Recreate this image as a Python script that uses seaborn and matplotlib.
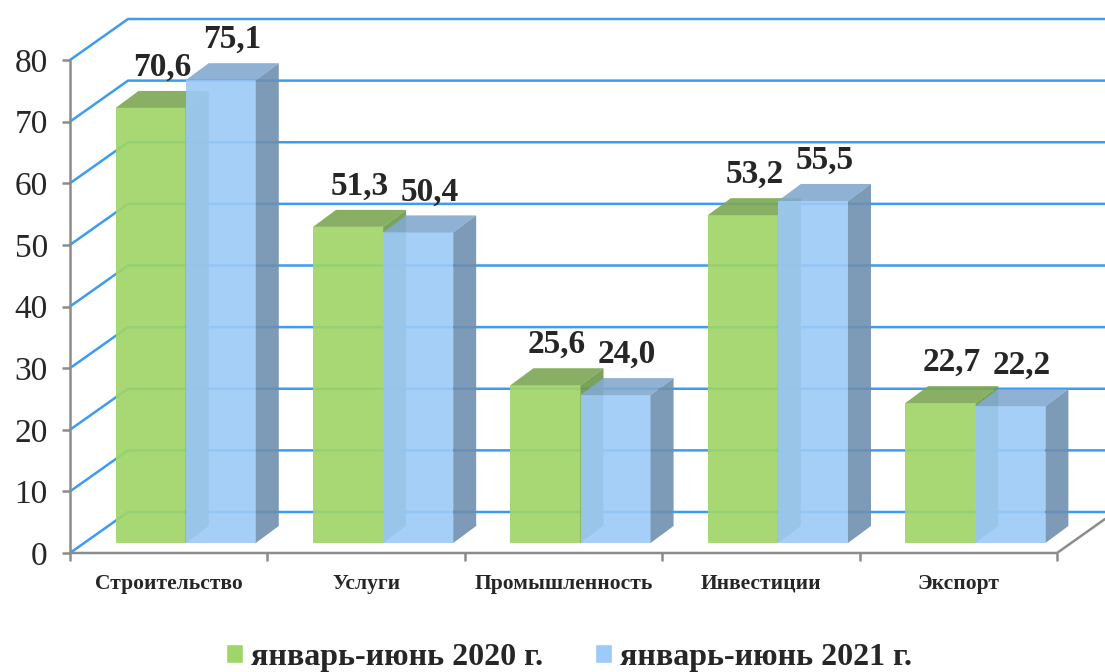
import pandas as pd
import matplotlib.pyplot as plt
import seaborn as sns
from matplotlib.patches import Polygon, Patch
from matplotlib.lines import Line2D
from matplotlib.transforms import Affine2D, IdentityTransform

# data
categories = ['Строительство', 'Услуги', 'Промышленность', 'Инвестиции', 'Экспорт']
v2020 = [70.6, 51.3, 25.6, 53.2, 22.7]
v2021 = [75.1, 50.4, 24.0, 55.5, 22.2]
periods = ['январь-июнь 2020 г.', 'январь-июнь 2021 г.']
yticks = [0, 10, 20, 30, 40, 50, 60, 70, 80]

df = pd.DataFrame({
    'cat': categories * 2,
    'val': v2020 + v2021,
    'period': [periods[0]] * 5 + [periods[1]] * 5,
})

sns.set_style('white')
plt.rcParams['font.family'] = ['Liberation Serif', 'DejaVu Serif']

front = ['#a0d568', '#9dcaf8']
top_c = ['#7ea856', '#82a9d0']
side_c = ['#6f9a4c', '#6f8fb0']
grid_c = '#3d9bf0'
axis_c = '#8c8c8c'

fig = plt.figure(figsize=(11.05, 6.72), dpi=100)
ax = fig.add_axes([70 / 1105, 119 / 672, 987 / 1105, 493 / 672])
ax.set_xlim(-0.5, 4.5)
ax.set_ylim(0, 80)
ax.autoscale(False)

sns.barplot(data=df, x='cat', y='val', hue='period', palette=front,
            width=0.71, gap=0, dodge=True, ax=ax, legend=False,
            linewidth=0, saturation=1)
ax.set_xlim(-0.5, 4.5)
ax.set_ylim(0, 80)

# pseudo-3d geometry in pixels
wall_dx, wall_dy = 58, 41      # back wall depth
bar_dx, bar_dy = 17, 10        # bar front face offset
dep_dx, dep_dy = 23, 17        # bar depth

def disp(x, y):
    return ax.transData.transform((x, y))

def add_poly(pts, color, z, alpha=1.0):
    p = Polygon(pts, closed=True, facecolor=color, edgecolor='none',
                alpha=alpha, transform=IdentityTransform(), zorder=z, clip_on=False)
    ax.add_artist(p)

def add_line(xs, ys, color, lw, z):
    ln = Line2D(xs, ys, color=color, lw=lw, transform=IdentityTransform(),
                zorder=z, clip_on=False)
    ax.add_artist(ln)

# back wall gridlines
for v in yticks:
    px, py = disp(-0.5, v)
    add_line([px, px + wall_dx, 1110], [py, py + wall_dy, py + wall_dy], grid_c, 1.8, 1)

# floor and axes lines
x0d, y0d = disp(-0.5, 0)
x1d, _ = disp(4.5, 0)
add_line([x0d, x1d, x1d + 48], [y0d, y0d, y0d + 34], axis_c, 1.8, 2)
add_line([x0d, x0d], [y0d, disp(-0.5, 80)[1]], axis_c, 1.8, 2)

# bars: front offset, top and side faces
shift = Affine2D().translate(bar_dx, bar_dy)
for k, cont in enumerate(ax.containers):
    for patch in cont.patches:
        patch.set_transform(ax.transData + shift)
        patch.set_clip_on(False)
        alpha = 0.92 if k == 0 else 0.9
        patch.set_alpha(alpha)
        patch.set_zorder(3 + 3 * k)
        bx, by = patch.get_x(), patch.get_y()
        w, h = patch.get_width(), patch.get_height()
        xl, yb = disp(bx, by)
        xr, yt = disp(bx + w, by + h)
        xl, xr = xl + bar_dx, xr + bar_dx
        yb, yt = yb + bar_dy, yt + bar_dy
        add_poly([(xl, yt), (xr, yt), (xr + dep_dx, yt + dep_dy), (xl + dep_dx, yt + dep_dy)],
                 top_c[k], 4 + 3 * k, alpha)
        add_poly([(xr, yb), (xr + dep_dx, yb + dep_dy), (xr + dep_dx, yt + dep_dy), (xr, yt)],
                 side_c[k], 4 + 3 * k, alpha)
        # value label
        lx, ly = ax.transData.inverted().transform(((xl + xr) / 2 + dep_dx / 2, yt + dep_dy + 8))
        ax.text(lx, ly, f'{h:.1f}'.replace('.', ','), ha='center', va='bottom',
                fontsize=24, fontweight='bold', zorder=20, clip_on=False)

# ticks and labels
for s in ax.spines.values():
    s.set_visible(False)
ax.set_yticks(yticks)
ax.set_yticklabels([str(t) for t in yticks], fontsize=24)
ax.tick_params(axis='y', length=6, width=1.8, color=axis_c, left=True, pad=10)
ax.set_xticks(range(len(categories)))
ax.set_xticklabels(categories, fontsize=15.5, fontweight='bold')
ax.set_xticks([i - 0.5 for i in range(len(categories) + 1)], minor=True)
ax.tick_params(axis='x', which='major', length=0, pad=15)
ax.tick_params(axis='x', which='minor', length=6, width=1.8, color=axis_c, bottom=True)
ax.set_xlabel('')
ax.set_ylabel('')
ax.grid(False)

handles = [Patch(facecolor=front[0], label=periods[0]),
           Patch(facecolor=front[1], label=periods[1])]
fig.legend(handles=handles, loc='center', bbox_to_anchor=(569 / 1105, 1 - 657 / 672),
           ncol=2, frameon=False, handlelength=0.55, handleheight=0.55,
           handletextpad=0.25, columnspacing=1.6,
           prop={'size': 23, 'weight': 'bold', 'family': 'Liberation Serif'})

fig.savefig('out.png', dpi=100)
